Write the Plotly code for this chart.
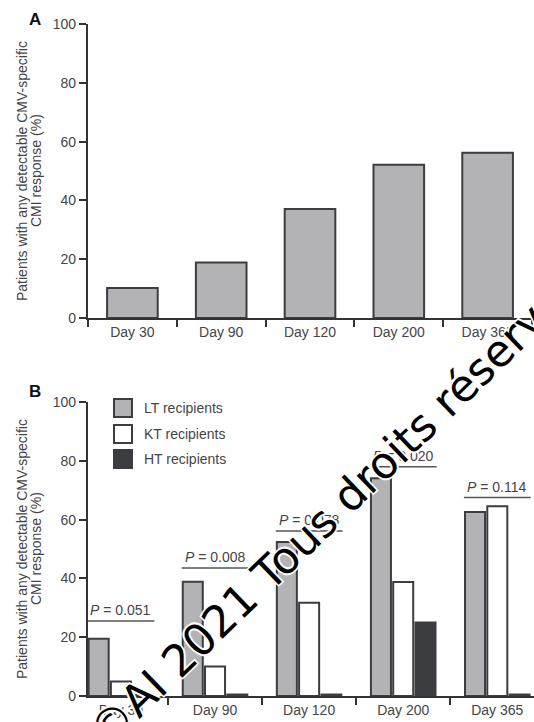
import plotly.graph_objects as go

# ---------------- data ----------------
days = ["Day 30", "Day 90", "Day 120", "Day 200", "Day 365"]
overall_pct = [10.2, 18.9, 37.1, 52.1, 56.2]          # panel A
lt_pct = [19.5, 38.9, 52.4, 74.1, 62.6]               # panel B, LT recipients
kt_pct = [4.9, 10.0, 31.7, 38.8, 64.5]                # panel B, KT recipients
ht_pct = [0.5, 0.5, 0.5, 25.0, 0.5]                   # panel B, HT recipients
p_values = ["0.051", "0.008", "0.078", "0.020", "0.114"]
p_bar_heights = [25.5, 43.5, 56.1, 78.0, 67.5]
y_ticks = [0, 20, 40, 60, 80, 100]
series_names = ["LT recipients", "KT recipients", "HT recipients"]
y_title_1 = "Patients with any detectable CMV-specific"
y_title_2 = "CMI response (%)"
watermark = "©AI 2021 Tous droits réservés"

# ---------------- style ----------------
W, H = 534, 722
AXC = "#333335"
TXT = "#454547"
GREY = "#b3b3b5"
DARK = "#3c3d41"
FONT = "Liberation Sans, Arial, sans-serif"
FS = 14

def px(x):
    return x / W

def py(y):
    return 1 - y / H

fig = go.Figure()

fig.add_trace(go.Bar(x=days, y=overall_pct, xaxis="x", yaxis="y", width=0.57,
                     marker=dict(color=GREY, line=dict(color=DARK, width=2)),
                     showlegend=False))
colors = [GREY, "#ffffff", DARK]
for name, vals, col in zip(series_names, [lt_pct, kt_pct, ht_pct], colors):
    fig.add_trace(go.Bar(x=days, y=vals, name=name, xaxis="x2", yaxis="y2",
                         marker=dict(color=col, line=dict(color=DARK, width=2)),
                         showlegend=False))

axis_common = dict(showline=True, linecolor=AXC, linewidth=2.2, ticks="outside",
                   ticklen=7, tickwidth=2, tickcolor=AXC, showgrid=False,
                   zeroline=False, tickfont=dict(family=FONT, size=FS, color=TXT),
                   automargin=False)

fig.update_layout(
    width=W, height=H, margin=dict(l=0, r=0, t=0, b=0),
    paper_bgcolor="white", plot_bgcolor="white",
    barmode="group", bargap=0.29, bargroupgap=0.1,
    font=dict(family=FONT, size=FS, color=TXT),
    xaxis=dict(domain=[px(88), px(532)], anchor="y", type="category",
               range=[-0.5, 4.5], tickson="boundaries", **axis_common),
    yaxis=dict(domain=[py(318), py(24)], anchor="x", range=[0, 100],
               tickvals=y_ticks, **axis_common),
    xaxis2=dict(domain=[px(88), 1.0], anchor="y2", type="category",
                range=[-0.35, 4.39], tickson="boundaries", **axis_common),
    yaxis2=dict(domain=[py(696), py(402)], anchor="x2", range=[0, 100],
                tickvals=y_ticks, **axis_common),
)

shapes = []
annotations = []

# p-value bars
for i, (pv, h) in enumerate(zip(p_values, p_bar_heights)):
    shapes.append(dict(type="line", xref="x2", yref="y2", x0=i - 0.355, x1=i + 0.355,
                       y0=h, y1=h, line=dict(color="#555557", width=1.5)))
    annotations.append(dict(xref="x2", yref="y2", x=i, y=h, yanchor="bottom",
                            xanchor="center", yshift=1, showarrow=False,
                            text="<i>P</i> = " + pv,
                            font=dict(family=FONT, size=FS, color=TXT)))

# legend (manual)
leg_y = [399, 425, 450]
for name, col, yy in zip(series_names, colors, leg_y):
    shapes.append(dict(type="rect", xref="paper", yref="paper",
                       x0=px(114), x1=px(132), y0=py(yy + 18), y1=py(yy),
                       fillcolor=col, line=dict(color=DARK, width=2)))
    annotations.append(dict(xref="paper", yref="paper", x=px(142), y=py(yy + 9),
                            xanchor="left", yanchor="middle", showarrow=False,
                            text=name, font=dict(family=FONT, size=FS, color=TXT)))

# panel letters
for letter, ly in [("A", 20), ("B", 391)]:
    annotations.append(dict(xref="paper", yref="paper", x=px(35), y=py(ly),
                            xanchor="center", yanchor="middle", text="<b>%s</b>" % letter,
                            showarrow=False, font=dict(family=FONT, size=17, color="#111")))

# y titles
for cy in [171, 549]:
    annotations.append(dict(xref="paper", yref="paper", x=px(22), y=py(cy), text=y_title_1,
                            textangle=-90, showarrow=False, xanchor="center", yanchor="middle",
                            font=dict(family=FONT, size=FS, color=TXT)))
    annotations.append(dict(xref="paper", yref="paper", x=px(36), y=py(cy), text=y_title_2,
                            textangle=-90, showarrow=False, xanchor="center", yanchor="middle",
                            font=dict(family=FONT, size=FS, color=TXT)))

# watermark
annotations.append(dict(xref="paper", yref="paper", x=px(335), y=py(508), text=watermark,
                        textangle=-44, showarrow=False, xanchor="center", yanchor="middle",
                        font=dict(family="DejaVu Sans, sans-serif", size=44, color="black",
                                  shadow="1.5px 1.5px 0 #fff, -1.5px -1.5px 0 #fff, 1.5px -1.5px 0 #fff, -1.5px 1.5px 0 #fff")))

fig.update_layout(shapes=shapes, annotations=annotations)

fig.write_html("out.html", config={"displayModeBar": False},
               post_script="document.body.style.margin='0';")
